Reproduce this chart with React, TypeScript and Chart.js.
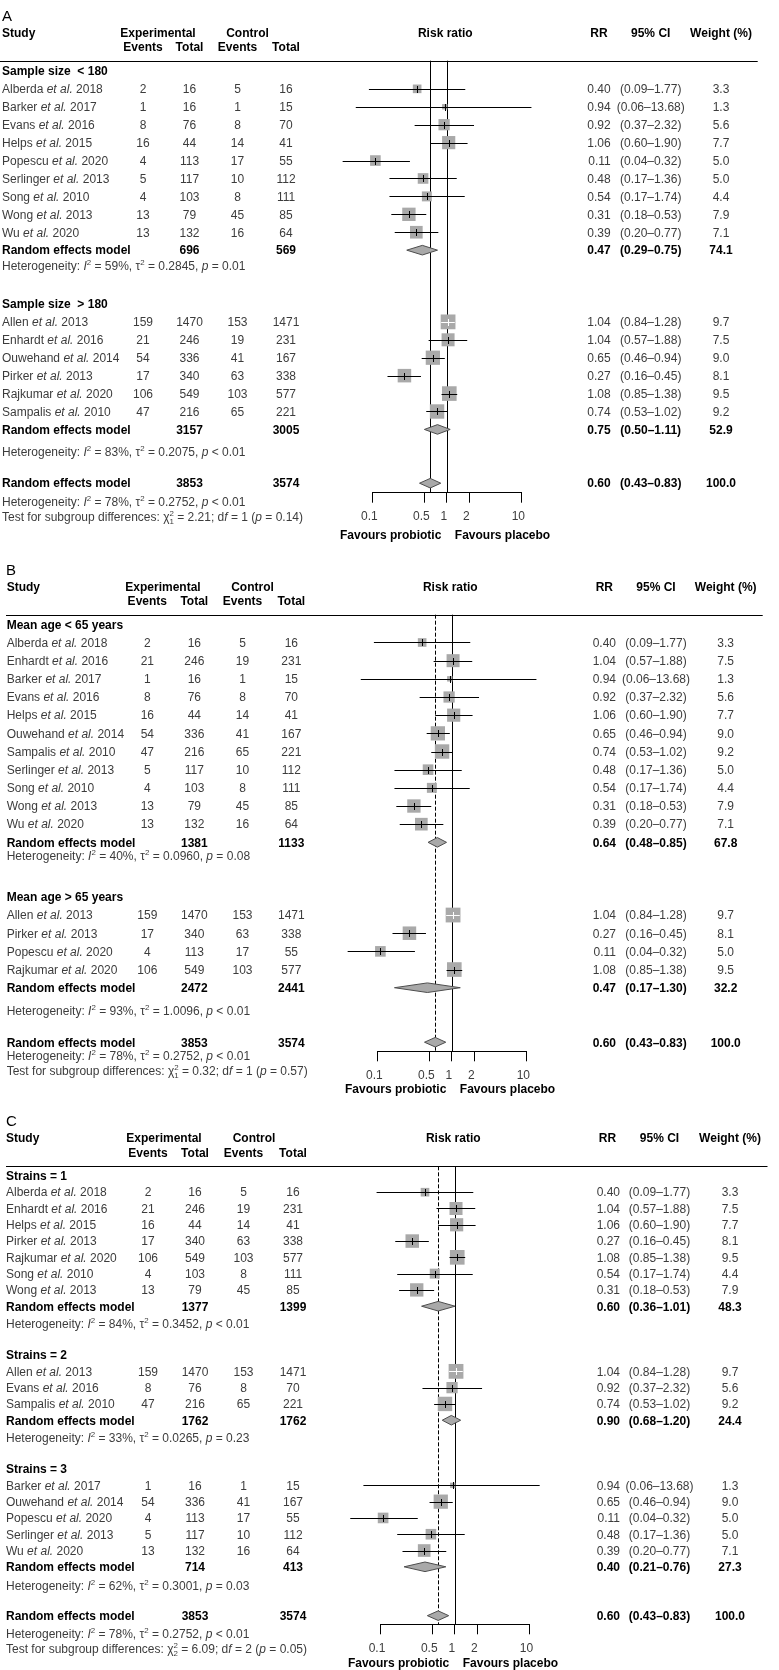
import React, { useEffect, useRef } from 'react';
import { Chart, registerables } from 'chart.js';
Chart.register(...registerables);

// ---------------- data ----------------
const AUTHORS = ['Alberda', 'Allen', 'Barker', 'Enhardt', 'Evans', 'Helps', 'Ouwehand', 'Pirker', 'Popescu', 'Rajkumar', 'Sampalis', 'Serlinger', 'Song', 'Wong', 'Wu'];
const YEARS = [2018, 2013, 2017, 2016, 2016, 2015, 2014, 2013, 2020, 2020, 2010, 2013, 2010, 2013, 2020];
const EXP_EVENTS = [2, 159, 1, 21, 8, 16, 54, 17, 4, 106, 47, 5, 4, 13, 13];
const EXP_TOTAL = [16, 1470, 16, 246, 76, 44, 336, 340, 113, 549, 216, 117, 103, 79, 132];
const CTRL_EVENTS = [5, 153, 1, 19, 8, 14, 41, 63, 17, 103, 65, 10, 8, 45, 16];
const CTRL_TOTAL = [16, 1471, 15, 231, 70, 41, 167, 338, 55, 577, 221, 112, 111, 85, 64];
const RR = [0.40, 1.04, 0.94, 1.04, 0.92, 1.06, 0.65, 0.27, 0.11, 1.08, 0.74, 0.48, 0.54, 0.31, 0.39];
const CI_LO = [0.09, 0.84, 0.06, 0.57, 0.37, 0.60, 0.46, 0.16, 0.04, 0.85, 0.53, 0.17, 0.17, 0.18, 0.20];
const CI_HI = [1.77, 1.28, 13.68, 1.88, 2.32, 1.90, 0.94, 0.45, 0.32, 1.38, 1.02, 1.36, 1.74, 0.53, 0.77];
const WEIGHT = [3.3, 9.7, 1.3, 7.5, 5.6, 7.7, 9.0, 8.1, 5.0, 9.5, 9.2, 5.0, 4.4, 7.9, 7.1];

// Panel A: sample size
const A_LABELS = ['Sample size  < 180', 'Sample size  > 180'];
const A_MEMBERS = [[0, 2, 4, 5, 8, 11, 12, 13, 14], [1, 3, 6, 7, 9, 10]];
const A_POOL_EXP = [696, 3157];
const A_POOL_CTRL = [569, 3005];
const A_POOL_RR = [0.47, 0.75];
const A_POOL_LO = [0.29, 0.50];
const A_POOL_HI = [0.75, 1.11];
const A_POOL_W = [74.1, 52.9];
const A_HET_I2 = [59, 83];
const A_HET_TAU2 = [0.2845, 0.2075];
const A_HET_P = ['= 0.01', '< 0.01'];
const A_TEST = ['1', '2.21', '1', '0.14'];

// Panel B: mean age
const B_LABELS = ['Mean age < 65 years', 'Mean age > 65 years'];
const B_MEMBERS = [[0, 3, 2, 4, 5, 6, 10, 11, 12, 13, 14], [1, 7, 8, 9]];
const B_POOL_EXP = [1381, 2472];
const B_POOL_CTRL = [1133, 2441];
const B_POOL_RR = [0.64, 0.47];
const B_POOL_LO = [0.48, 0.17];
const B_POOL_HI = [0.85, 1.30];
const B_POOL_W = [67.8, 32.2];
const B_HET_I2 = [40, 93];
const B_HET_TAU2 = [0.0960, 1.0096];
const B_HET_P = ['= 0.08', '< 0.01'];
const B_TEST = ['1', '0.32', '1', '0.57'];

// Panel C: strains
const C_LABELS = ['Strains = 1', 'Strains = 2', 'Strains = 3'];
const C_MEMBERS = [[0, 3, 5, 7, 9, 12, 13], [1, 4, 10], [2, 6, 8, 11, 14]];
const C_POOL_EXP = [1377, 1762, 714];
const C_POOL_CTRL = [1399, 1762, 413];
const C_POOL_RR = [0.60, 0.90, 0.40];
const C_POOL_LO = [0.36, 0.68, 0.21];
const C_POOL_HI = [1.01, 1.20, 0.76];
const C_POOL_W = [48.3, 24.4, 27.3];
const C_HET_I2 = [84, 33, 62];
const C_HET_TAU2 = [0.3452, 0.0265, 0.3001];
const C_HET_P = ['< 0.01', '= 0.23', '= 0.03'];
const C_TEST = ['2', '6.09', '2', '0.05'];

// Overall
const OVERALL = { exp: 3853, ctrl: 3574, rr: 0.60, lo: 0.43, hi: 0.83, w: 100.0, i2: 78, tau2: 0.2752, p: '< 0.01' };
const X_TICKS = [0.1, 0.5, 1, 2, 10];

// ---------------- style / layout ----------------
const W = 779;
const FONT = '"Liberation Sans", Arial, sans-serif';
const TEXT = '#3c3c3c';
const BLACK = '#000000';
const BOX = '#a9a9a9';
const DIAMOND_FILL = '#a9a9a9';
const DIAMOND_EDGE = '#4d4d4d';
const BOX_K = 4.75;
const DIAMOND_H = 4.8;
const AXIS_H = 38.4;
const BASE = 4.3;

const PANELS = [
  {
    key: 'A', top: 0, height: 545, hline: 60.7, axis: 492.7, x01: 372.3, x10: 521.3, yMin: -0.57, axisOff: 0.53,
    hetOff: [0.84, 1.26], ovHetOff: 1.03, ovTestOff: 1.89, favOff: 42, dashed: false,
    labels: A_LABELS, members: A_MEMBERS, pExp: A_POOL_EXP, pCtrl: A_POOL_CTRL, pRR: A_POOL_RR, pLo: A_POOL_LO, pHi: A_POOL_HI, pW: A_POOL_W,
    i2: A_HET_I2, tau2: A_HET_TAU2, hp: A_HET_P, test: A_TEST,
    cols: { letter: 2, name: 2, expHead: 158, ctrlHead: 247.5, ee: 143, et: 189.5, ce: 237.5, ct: 286, rrHead: 599, rrR: 610.7, ci: 650.7, w: 721, lineL: 0, lineR: 757.7 },
  },
  {
    key: 'B', top: 545, height: 555, hline: 614.7, axis: 1051.3, x01: 377.3, x10: 526.3, yMin: -0.53, axisOff: 0.5,
    hetOff: [0.71, 1.28], ovHetOff: 0.74, ovTestOff: 1.56, favOff: 37, dashed: true,
    labels: B_LABELS, members: B_MEMBERS, pExp: B_POOL_EXP, pCtrl: B_POOL_CTRL, pRR: B_POOL_RR, pLo: B_POOL_LO, pHi: B_POOL_HI, pW: B_POOL_W,
    i2: B_HET_I2, tau2: B_HET_TAU2, hp: B_HET_P, test: B_TEST,
    cols: { letter: 6, name: 6.7, expHead: 163, ctrlHead: 252.5, ee: 147.3, et: 194.3, ce: 242.5, ct: 291.3, rrHead: 604.3, rrR: 616, ci: 656, w: 725.7, lineL: 6, lineR: 762.7 },
  },
  {
    key: 'C', top: 1100, height: 570, hline: 1166.3, axis: 1624.3, x01: 380, x10: 529.5, yMin: -0.59, axisOff: 0.53,
    hetOff: [1.09, 1.07, 1.16], ovHetOff: 1.1, ovTestOff: 2.04, favOff: 38, dashed: true,
    labels: C_LABELS, members: C_MEMBERS, pExp: C_POOL_EXP, pCtrl: C_POOL_CTRL, pRR: C_POOL_RR, pLo: C_POOL_LO, pHi: C_POOL_HI, pW: C_POOL_W,
    i2: C_HET_I2, tau2: C_HET_TAU2, hp: C_HET_P, test: C_TEST,
    cols: { letter: 6, name: 6, expHead: 164, ctrlHead: 254, ee: 148, et: 195, ce: 243.5, ct: 293, rrHead: 607.5, rrR: 620, ci: 659.5, w: 730, lineL: 6, lineR: 767.5 },
  },
];

type Item = { type: string; row: number; s?: number; g?: number };

function buildItems(cfg: any): { items: Item[]; overallRow: number } {
  const items: Item[] = [];
  let r = 0;
  cfg.members.forEach((mem: number[], g: number) => {
    items.push({ type: 'group', row: r, g });
    mem.forEach((s, k) => items.push({ type: 'study', row: r + 1 + k, s }));
    const pr = r + 1 + mem.length;
    items.push({ type: 'pooled', row: pr, g });
    items.push({ type: 'het', row: pr + cfg.hetOff[g], g });
    r = pr + 3;
  });
  items.push({ type: 'overall', row: r });
  items.push({ type: 'ovhet', row: r + cfg.ovHetOff });
  items.push({ type: 'test', row: r + cfg.ovTestOff });
  return { items, overallRow: r };
}

// ---------------- text helpers ----------------
type Seg = { t?: string; it?: boolean; sup?: boolean; ss?: [string, string] };
const fnt = (size: number, bold = false, italic = false) => `${italic ? 'italic ' : ''}${bold ? 'bold ' : ''}${size}px ${FONT}`;

function drawRich(ctx: CanvasRenderingContext2D, segs: Seg[], x: number, y: number, align: string, bold: boolean, color: string, size = 12) {
  const small = size * 0.66;
  const widths = segs.map((sg) => {
    if (sg.ss) {
      ctx.font = fnt(small, bold);
      return Math.max(ctx.measureText(sg.ss[0]).width, ctx.measureText(sg.ss[1]).width);
    }
    ctx.font = sg.sup ? fnt(small, bold) : fnt(size, bold, !!sg.it);
    return ctx.measureText(sg.t || '').width;
  });
  const total = widths.reduce((a, b) => a + b, 0);
  let cx = align === 'left' ? x : align === 'center' ? x - total / 2 : x - total;
  ctx.fillStyle = color;
  ctx.textAlign = 'left';
  ctx.textBaseline = 'alphabetic';
  segs.forEach((sg, i) => {
    if (sg.ss) {
      ctx.font = fnt(small, bold);
      ctx.fillText(sg.ss[0], cx, y + 3);
      ctx.fillText(sg.ss[1], cx, y - 5);
    } else if (sg.sup) {
      ctx.font = fnt(small, bold);
      ctx.fillText(sg.t || '', cx, y - 5);
    } else {
      ctx.font = fnt(size, bold, !!sg.it);
      ctx.fillText(sg.t || '', cx, y);
    }
    cx += widths[i];
  });
}

function txt(ctx: CanvasRenderingContext2D, s: string, x: number, y: number, align: CanvasTextAlign, bold: boolean, color: string, size = 12) {
  ctx.font = fnt(size, bold);
  ctx.fillStyle = color;
  ctx.textAlign = align;
  ctx.textBaseline = 'alphabetic';
  ctx.fillText(s, x, y);
}

const hetSegs = (i2: number, tau2: number, p: string): Seg[] => [
  { t: 'Heterogeneity: ' }, { t: 'I', it: true }, { t: '2', sup: true }, { t: ` = ${i2}%, τ` }, { t: '2', sup: true },
  { t: ` = ${tau2.toFixed(4)}, ` }, { t: 'p', it: true }, { t: ` ${p}` },
];

const testSegs = (t: string[]): Seg[] => [
  { t: 'Test for subgroup differences: χ' }, { ss: [t[0], '2'] }, { t: ` = ${t[1]}; d` }, { t: 'f', it: true },
  { t: ` = ${t[2]} (` }, { t: 'p', it: true }, { t: ` = ${t[3]})` },
];

function diamond(ctx: CanvasRenderingContext2D, xs: any, yy: number, rr: number, lo: number, hi: number) {
  const xl = xs.getPixelForValue(lo), xm = xs.getPixelForValue(rr), xh = xs.getPixelForValue(hi);
  ctx.beginPath();
  ctx.moveTo(xl, yy);
  ctx.lineTo(xm, yy - DIAMOND_H);
  ctx.lineTo(xh, yy);
  ctx.lineTo(xm, yy + DIAMOND_H);
  ctx.closePath();
  ctx.fillStyle = DIAMOND_FILL;
  ctx.fill();
  ctx.strokeStyle = DIAMOND_EDGE;
  ctx.lineWidth = 1;
  ctx.stroke();
}

function makePlugin(cfg: any, items: Item[]) {
  return {
    id: 'forest' + cfg.key,
    beforeDatasetsDraw(chart: any) {
      const { ctx, chartArea, scales } = chart;
      const xs = scales.x;
      ctx.save();
      ctx.strokeStyle = BLACK;
      ctx.lineWidth = 1;
      const x1 = Math.round(xs.getPixelForValue(1)) + 0.5;
      ctx.beginPath();
      ctx.moveTo(x1, chartArea.top);
      ctx.lineTo(x1, chartArea.bottom);
      ctx.stroke();
      const xo = Math.round(xs.getPixelForValue(OVERALL.rr)) + 0.5;
      if (cfg.dashed) ctx.setLineDash([4, 2]);
      ctx.beginPath();
      ctx.moveTo(xo, chartArea.top);
      ctx.lineTo(xo, chartArea.bottom);
      ctx.stroke();
      ctx.restore();
    },
    afterDatasetsDraw(chart: any) {
      const { ctx, scales } = chart;
      const xs = scales.x, ys = scales.y;
      ctx.save();
      ctx.lineWidth = 1;
      items.forEach((it) => {
        const yy = ys.getPixelForValue(it.row);
        if (it.type === 'study') {
          const s = it.s as number;
          const xl = xs.getPixelForValue(CI_LO[s]), xm = xs.getPixelForValue(RR[s]), xh = xs.getPixelForValue(CI_HI[s]);
          const half = (BOX_K * Math.sqrt(WEIGHT[s])) / 2;
          const inside = xm - xl <= half && xh - xm <= half;
          const ly = Math.round(yy) + 0.5;
          ctx.strokeStyle = inside ? '#ffffff' : BLACK;
          ctx.beginPath();
          ctx.moveTo(xl, ly);
          ctx.lineTo(xh, ly);
          const tx = Math.round(xm) + 0.5;
          ctx.moveTo(tx, ly - 3.5);
          ctx.lineTo(tx, ly + 3.5);
          ctx.stroke();
        } else if (it.type === 'pooled') {
          const g = it.g as number;
          diamond(ctx, xs, yy, cfg.pRR[g], cfg.pLo[g], cfg.pHi[g]);
        } else if (it.type === 'overall') {
          diamond(ctx, xs, yy, OVERALL.rr, OVERALL.lo, OVERALL.hi);
        }
      });
      ctx.restore();
    },
    afterDraw(chart: any) {
      const { ctx, chartArea, scales } = chart;
      const xs = scales.x, ys = scales.y;
      const c = cfg.cols;
      ctx.save();
      // top rule
      ctx.strokeStyle = BLACK;
      ctx.lineWidth = 1.2;
      ctx.beginPath();
      ctx.moveTo(c.lineL, Math.round(chartArea.top) + 0.5);
      ctx.lineTo(c.lineR, Math.round(chartArea.top) + 0.5);
      ctx.stroke();
      // headers
      const hy1 = chartArea.top - 28.5 + BASE;
      const hy2 = chartArea.top - 14 + BASE;
      txt(ctx, cfg.key, c.letter, chartArea.top - 45.5 + 5.4, 'left', false, BLACK, 15);
      txt(ctx, 'Study', c.name, hy1, 'left', true, BLACK);
      txt(ctx, 'Experimental', c.expHead, hy1, 'center', true, BLACK);
      txt(ctx, 'Control', c.ctrlHead, hy1, 'center', true, BLACK);
      txt(ctx, 'Risk ratio', xs.getPixelForValue(1) - 1.5, hy1, 'center', true, BLACK);
      txt(ctx, 'RR', c.rrHead, hy1, 'center', true, BLACK);
      txt(ctx, '95% CI', c.ci, hy1, 'center', true, BLACK);
      txt(ctx, 'Weight (%)', c.w, hy1, 'center', true, BLACK);
      txt(ctx, 'Events', c.ee, hy2, 'center', true, BLACK);
      txt(ctx, 'Total', c.et, hy2, 'center', true, BLACK);
      txt(ctx, 'Events', c.ce, hy2, 'center', true, BLACK);
      txt(ctx, 'Total', c.ct, hy2, 'center', true, BLACK);

      const rrCols = (rr: number, lo: number, hi: number, w: number, y: number, bold: boolean, col: string) => {
        txt(ctx, rr.toFixed(2), c.rrR, y, 'right', bold, col);
        txt(ctx, `(${lo.toFixed(2)}–${hi.toFixed(2)})`, c.ci, y, 'center', bold, col);
        txt(ctx, w.toFixed(1), c.w, y, 'center', bold, col);
      };

      items.forEach((it) => {
        const y = ys.getPixelForValue(it.row) + BASE;
        if (it.type === 'group') {
          txt(ctx, cfg.labels[it.g as number], c.name, y, 'left', true, BLACK);
        } else if (it.type === 'study') {
          const s = it.s as number;
          drawRich(ctx, [{ t: AUTHORS[s] + ' ' }, { t: 'et al.', it: true }, { t: ' ' + YEARS[s] }], c.name, y, 'left', false, TEXT);
          txt(ctx, String(EXP_EVENTS[s]), c.ee, y, 'center', false, TEXT);
          txt(ctx, String(EXP_TOTAL[s]), c.et, y, 'center', false, TEXT);
          txt(ctx, String(CTRL_EVENTS[s]), c.ce, y, 'center', false, TEXT);
          txt(ctx, String(CTRL_TOTAL[s]), c.ct, y, 'center', false, TEXT);
          rrCols(RR[s], CI_LO[s], CI_HI[s], WEIGHT[s], y, false, TEXT);
        } else if (it.type === 'pooled') {
          const g = it.g as number;
          txt(ctx, 'Random effects model', c.name, y, 'left', true, BLACK);
          txt(ctx, String(cfg.pExp[g]), c.et, y, 'center', true, BLACK);
          txt(ctx, String(cfg.pCtrl[g]), c.ct, y, 'center', true, BLACK);
          rrCols(cfg.pRR[g], cfg.pLo[g], cfg.pHi[g], cfg.pW[g], y, true, BLACK);
        } else if (it.type === 'het') {
          const g = it.g as number;
          drawRich(ctx, hetSegs(cfg.i2[g], cfg.tau2[g], cfg.hp[g]), c.name, y, 'left', false, TEXT);
        } else if (it.type === 'overall') {
          txt(ctx, 'Random effects model', c.name, y, 'left', true, BLACK);
          txt(ctx, String(OVERALL.exp), c.et, y, 'center', true, BLACK);
          txt(ctx, String(OVERALL.ctrl), c.ct, y, 'center', true, BLACK);
          rrCols(OVERALL.rr, OVERALL.lo, OVERALL.hi, OVERALL.w, y, true, BLACK);
        } else if (it.type === 'ovhet') {
          drawRich(ctx, hetSegs(OVERALL.i2, OVERALL.tau2, OVERALL.p), c.name, y, 'left', false, TEXT);
        } else if (it.type === 'test') {
          drawRich(ctx, testSegs(cfg.test), c.name, y, 'left', false, TEXT);
        }
      });

      // favours labels
      const x1 = xs.getPixelForValue(1);
      const fy = chartArea.bottom + cfg.favOff + BASE;
      txt(ctx, 'Favours probiotic', x1 - 5.5, fy, 'right', true, BLACK);
      txt(ctx, 'Favours placebo', x1 + 8, fy, 'left', true, BLACK);
      ctx.restore();
    },
  };
}

function Panel({ cfg }: { cfg: any }) {
  const ref = useRef<HTMLCanvasElement>(null);
  useEffect(() => {
    const canvas = ref.current as HTMLCanvasElement;
    const { items, overallRow } = buildItems(cfg);
    const studies = items.filter((it) => it.type === 'study');
    const radii = studies.map((it) => (BOX_K * Math.sqrt(WEIGHT[it.s as number])) / Math.SQRT2);
    const chart = new Chart(canvas, {
      type: 'scatter',
      data: {
        datasets: [
          {
            data: studies.map((it) => ({ x: RR[it.s as number], y: it.row })),
            pointStyle: 'rect',
            pointRadius: radii,
            pointHoverRadius: radii,
            backgroundColor: BOX,
            borderWidth: 0,
            hoverBorderWidth: 0,
            clip: false,
          } as any,
        ],
      },
      options: {
        responsive: false,
        animation: false,
        devicePixelRatio: 1,
        events: [],
        layout: {
          padding: {
            left: cfg.x01,
            right: W - cfg.x10,
            top: cfg.hline - cfg.top,
            bottom: cfg.top + cfg.height - cfg.axis - AXIS_H,
          },
        },
        plugins: { legend: { display: false }, tooltip: { enabled: false }, title: { display: false } },
        scales: {
          x: {
            type: 'logarithmic',
            min: 0.1,
            max: 10,
            position: 'bottom',
            afterBuildTicks: (axis: any) => {
              axis.ticks = X_TICKS.map((v) => ({ value: v }));
            },
            ticks: {
              callback: (v: any) => String(v),
              autoSkip: false,
              maxRotation: 0,
              minRotation: 0,
              padding: 7,
              labelOffset: -3,
              color: TEXT,
              font: { family: FONT, size: 12 },
            },
            grid: { display: true, drawOnChartArea: false, drawTicks: true, tickLength: 10, color: BLACK, lineWidth: 1 },
            border: { display: true, color: BLACK, width: 1 },
          },
          y: {
            type: 'linear',
            reverse: true,
            min: cfg.yMin,
            max: overallRow + cfg.axisOff,
            display: false,
          },
        },
      } as any,
      plugins: [makePlugin(cfg, items)],
    });
    return () => chart.destroy();
  }, [cfg]);
  return <canvas ref={ref} width={W} height={cfg.height} style={{ display: 'block', width: W, height: cfg.height }} />;
}

export default function App() {
  return (
    <div style={{ position: 'absolute', left: 0, top: 0, width: W, background: '#ffffff' }}>
      {PANELS.map((p) => (
        <Panel key={p.key} cfg={p} />
      ))}
    </div>
  );
}
